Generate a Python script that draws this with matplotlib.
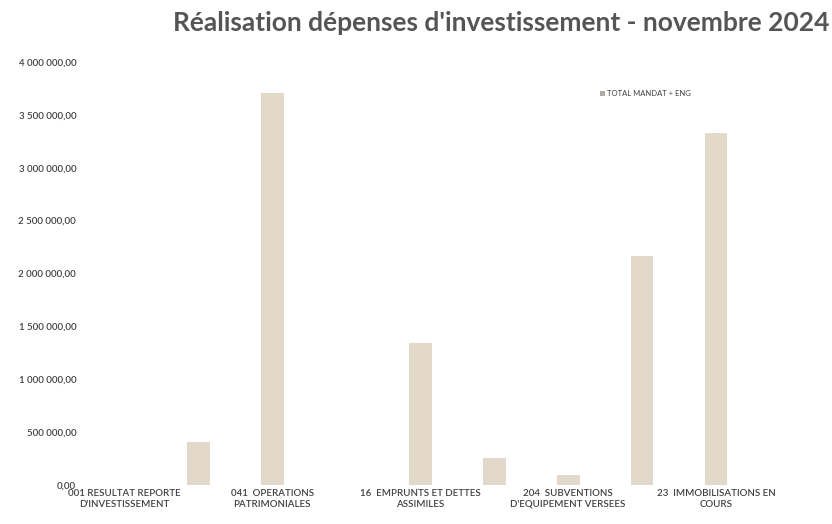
import matplotlib.pyplot as plt
from matplotlib.patches import Patch
from matplotlib.ticker import FuncFormatter

plt.rcParams['font.family'] = ['Lato', 'DejaVu Sans']

# Chapitres budgétaires (une étiquette sur deux affichée)
categories = ["001 RESULTAT REPORTE\nD'INVESTISSEMENT", "",
              "041  OPERATIONS\nPATRIMONIALES", "",
              "16  EMPRUNTS ET DETTES\nASSIMILES", "",
              "204  SUBVENTIONS\nD'EQUIPEMENT VERSEES", "",
              "23  IMMOBILISATIONS EN\nCOURS"]
total_mandat_eng = [0, 405000, 3710000, 0, 1340000, 255000, 90000, 2170000, 3330000]

bar_color = '#e3d9cb'
text_color = '#404040'


def fmt_euros(v, pos):
    s = f"{v:,.2f}".replace(',', ' ').replace('.', ',')
    return s


fig = plt.figure(figsize=(8.32, 5.24), dpi=100)
ax = fig.add_axes([0.105, 0.0744, 0.80, 0.8073])

x = range(len(categories))
ax.bar(x, total_mandat_eng, width=0.31, color=bar_color, edgecolor='none')

ax.set_xlim(-0.5, len(categories) - 0.5)
ax.set_ylim(0, 4000000)
ax.set_yticks(range(0, 4000001, 500000))
ax.yaxis.set_major_formatter(FuncFormatter(fmt_euros))
ax.set_xticks(list(x))
ax.set_xticklabels(categories)

for s in ax.spines.values():
    s.set_visible(False)
ax.tick_params(axis='both', length=0, colors=text_color)
ax.tick_params(axis='y', labelsize=7, pad=8)
ax.tick_params(axis='x', labelsize=7, pad=3)
for lbl in ax.get_xticklabels() + ax.get_yticklabels():
    lbl.set_fontweight('semibold')

fig.text(0.602, 0.957, "Réalisation dépenses d'investissement - novembre 2024",
         ha='center', va='center', fontsize=19, fontweight='bold', color='#555555')

handle = Patch(facecolor='#b0aaa3', edgecolor='none', label='TOTAL MANDAT + ENG')
ax.legend(handles=[handle], loc='upper left', bbox_to_anchor=(0.76, 0.95),
          frameon=False, fontsize=5.5, handlelength=0.6, handleheight=0.6,
          handletextpad=0.3, labelcolor=text_color)

fig.savefig('out.png', dpi=100, facecolor='white')
